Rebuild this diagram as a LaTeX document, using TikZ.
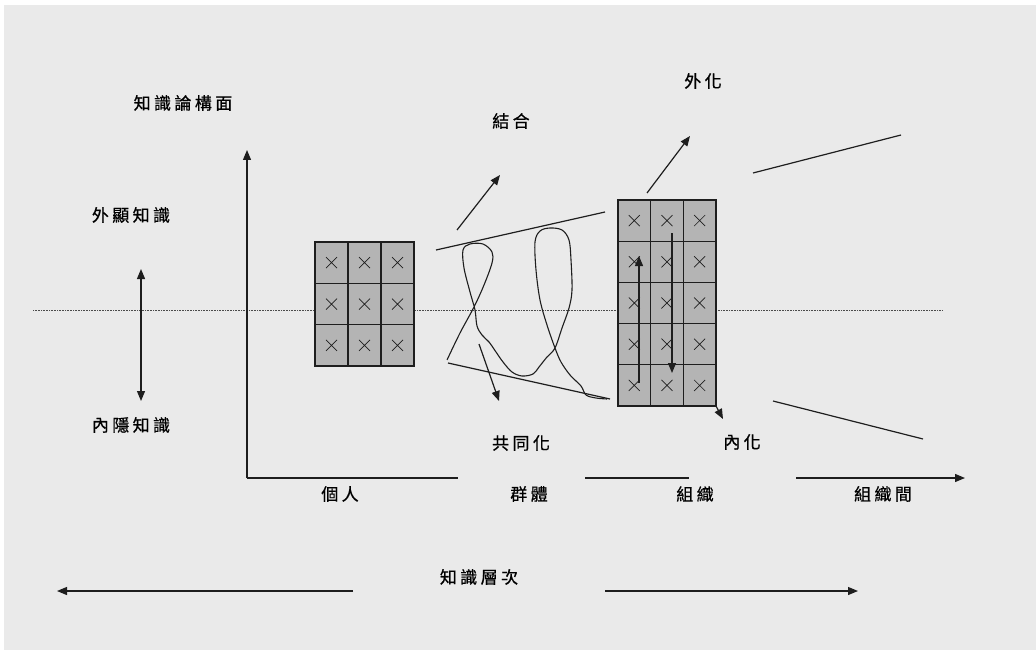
\documentclass[tikz,border=0pt]{standalone}
\usepackage{fontspec}
\usetikzlibrary{arrows.meta}
\newfontfamily\cjk[LetterSpace=20,FakeBold=0.6]{Noto Sans CJK TC}
\definecolor{bggrey}{HTML}{EAEAEA}
\definecolor{cellgrey}{HTML}{B4B4B4}
\definecolor{ink}{HTML}{1E1E1E}
\begin{document}
\begin{tikzpicture}[x=1pt,y=-1pt,
  lbl/.style={font=\cjk\fontsize{17}{20}\selectfont, text=black, inner sep=0pt},
  ln/.style={draw=ink, line width=1.2pt},
  arr/.style={ln, -{Triangle[length=10pt,width=8pt]}},
  dbl/.style={ln, {Triangle[length=10pt,width=8pt]}-{Triangle[length=10pt,width=8pt]}},
  cell/.style={draw=ink, line width=1.1pt, fill=cellgrey},
  xmark/.style={draw=ink, line width=0.7pt},
  dots/.style={draw=ink!80, line width=0.9pt, dash pattern=on 0.8pt off 0.8pt}
]
\useasboundingbox (0,0) rectangle (1036,650);
\fill[white] (0,0) rectangle (1036,650);
\fill[bggrey] (4,5) rectangle (1036,650);

% dotted centre line
\coordinate (dotL) at (33,310);
\coordinate (dotR) at (943,310);
\draw[dots] (dotL) -- (dotR);

% left grid 3x3
\foreach \c in {0,1,2}{
  \foreach \r in {0,1,2}{
    \pgfmathsetmacro\xa{315+33*\c}
    \pgfmathsetmacro\ya{242+41.33*\r}
    \draw[cell] (\xa,\ya) rectangle ++(33,41.33);
    \draw[xmark] (\xa+16.5-5.5,\ya+20.7-5.5) -- ++(11,11) (\xa+16.5-5.5,\ya+20.7+5.5) -- ++(11,-11);
  }
}
% right grid 3x5
\foreach \c in {0,1,2}{
  \foreach \r in {0,1,2,3,4}{
    \pgfmathsetmacro\xa{618+32.67*\c}
    \pgfmathsetmacro\ya{200+41.2*\r}
    \draw[cell] (\xa,\ya) rectangle ++(32.67,41.2);
    \draw[xmark] (\xa+16.3-5.5,\ya+20.6-5.5) -- ++(11,11) (\xa+16.3-5.5,\ya+20.6+5.5) -- ++(11,-11);
  }
}
\coordinate (gridRbr) at (716,406);

% axes
\coordinate (origin) at (247,478);
\coordinate (ytop) at (247,150);
\coordinate (ax1) at (458,478);
\coordinate (ax2a) at (585,478);
\coordinate (ax2b) at (689,478);
\coordinate (ax3a) at (796,478);
\coordinate (ax3b) at (965,478);
\draw[arr] (origin) -- (ytop);
\draw[ln] (origin) -- (ax1);
\draw[ln] (ax2a) -- (ax2b);
\draw[arr] (ax3a) -- (ax3b);

% vertical double arrow
\coordinate (dA) at (141,269);
\coordinate (dB) at (141,401);
\draw[dbl] (dA) -- (dB);

% bottom arrows
\coordinate (bl1) at (353,591);
\coordinate (bl2) at (57,591);
\coordinate (br1) at (605,591);
\coordinate (br2) at (858,591);
\draw[arr] (bl1) -- (bl2);
\draw[arr] (br1) -- (br2);

% middle funnel lines
\coordinate (u1) at (436,250);
\coordinate (u2) at (605,212);
\coordinate (l1) at (448,363);
\coordinate (l2) at (610,399);
\draw[ln] (u1) -- (u2);
\draw[ln] (l1) -- (l2);

% right funnel lines
\coordinate (ru1) at (753,173);
\coordinate (ru2) at (901,135);
\coordinate (rl1) at (773,401);
\coordinate (rl2) at (923,439);
\draw[ln] (ru1) -- (ru2);
\draw[ln] (rl1) -- (rl2);

% arrows
\coordinate (a1s) at (457,230);
\coordinate (a1e) at (500,175);
\draw[arr] (a1s) -- (a1e);
\coordinate (a2s) at (479,344);
\coordinate (a2e) at (499,401);
\draw[arr] (a2s) -- (a2e);
\coordinate (a3s) at (647,193);
\coordinate (a3e) at (690,136);
\draw[arr] (a3s) -- (a3e);
\coordinate (a4e) at (723,419);
\draw[arr] (gridRbr) -- (a4e);
\coordinate (a5s) at (639,383);
\coordinate (a5e) at (639,256);
\draw[arr] (a5s) -- (a5e);
\coordinate (a6s) at (672,233);
\coordinate (a6e) at (672,373);
\draw[arr] (a6s) -- (a6e);

% hand-drawn loops
\draw[draw=ink, line width=1.1pt, line join=round] plot[smooth, tension=0.55] coordinates {
  (447,360) (460,333) (474,307) (484,285) (492,263) (492,252) (483,244) (470,244) (463,250)
  (464,268) (470,292) (475,310) (477,326) (482,335) (489,342) (496,352) (503,362)
  (512,372) (522,376) (533,374) (539,367) (547,357) (555,348) (562,328) (569,308)
  (572,290) (571,260) (569,240) (562,230) (550,228) (540,231) (535,242) (536,270)
  (540,300) (547,325) (555,348) (561,362) (570,375) (581,386) (586,395) (596,398) (607,399)
};

% labels
\node[lbl] (tKnow) at (183,103) {知識論構面};
\node[lbl] (tExp) at (131,215) {外顯知識};
\node[lbl] (tTac) at (131,425) {內隱知識};
\node[lbl] (tComb) at (511,121) {結合};
\node[lbl] (tExt) at (703,81) {外化};
\node[lbl] (tSoc) at (521,443) {共同化};
\node[lbl] (tInt) at (742,442) {內化};
\node[lbl] (tInd) at (340,494) {個人};
\node[lbl] (tGrp) at (529,494) {群體};
\node[lbl] (tOrg) at (695,494) {組織};
\node[lbl] (tInter) at (883,494) {組織間};
\node[lbl] (tLevel) at (479,577) {知識層次};
\end{tikzpicture}
\end{document}
